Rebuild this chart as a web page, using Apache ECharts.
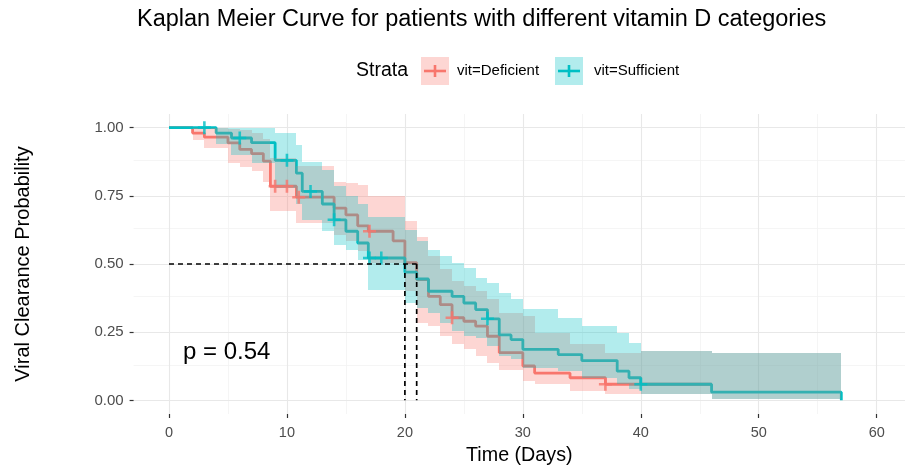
<!DOCTYPE html>
<html>
<head>
<meta charset="utf-8">
<script src="https://cdn.jsdelivr.net/npm/echarts@6/dist/echarts.min.js"></script>
<style>
  html, body { margin: 0; padding: 0; background: #fff; }
  #chart { width: 905px; height: 471px; }
</style>
</head>
<body>
<div id="chart"></div>
<script>
// survival curve, vit=Sufficient
const suffTime = [0, 4, 5.3, 7, 9, 10.8, 11.3, 13, 14, 15, 16, 16.9, 20, 21, 22, 24, 25, 26, 27, 28, 29, 30, 33, 35, 38, 39, 40, 46, 57]
const suffSurv = [1, 0.98, 0.962, 0.945, 0.88, 0.833, 0.766, 0.72, 0.662, 0.62, 0.577, 0.522, 0.47, 0.445, 0.40, 0.381, 0.357, 0.333, 0.299, 0.24, 0.223, 0.187, 0.168, 0.146, 0.107, 0.083, 0.059, 0.03, 0]
// confidence band, vit=Sufficient (step boundaries, then lower / upper per step)
const suffBandTime = [4, 5.3, 7, 9, 10.8, 11.3, 13, 14, 15, 16, 16.9, 20, 21, 22, 23, 24, 25, 26, 27, 28, 29, 30, 33, 35, 38, 39, 40, 46, 57]
const suffLower = [0.94, 0.90, 0.87, 0.78, 0.72, 0.66, 0.62, 0.57, 0.55, 0.516, 0.406, 0.358, 0.339, 0.321, 0.284, 0.254, 0.235, 0.229, 0.199, 0.162, 0.15, 0.12, 0.107, 0.083, 0.059, 0.04, 0.022, 0.006]
const suffUpper = [1, 1, 1, 0.98, 0.937, 0.875, 0.845, 0.785, 0.748, 0.72, 0.674, 0.625, 0.585, 0.55, 0.528, 0.504, 0.486, 0.449, 0.43, 0.394, 0.37, 0.335, 0.303, 0.272, 0.248, 0.211, 0.18, 0.175]
const suffCensorTime = [3, 6, 10, 12, 14, 17, 18, 27, 40]
const suffCensorSurv = [1, 0.962, 0.88, 0.766, 0.662, 0.522, 0.522, 0.299, 0.059]

// survival curve, vit=Deficient
const defTime = [0, 2, 3, 5, 6, 7, 8, 8.6, 10.8, 14, 15, 16, 16.9, 19, 20, 21, 22, 23, 24, 25, 26, 27, 28, 30, 31, 34, 37, 46]
const defSurv = [1, 0.98, 0.965, 0.944, 0.92, 0.905, 0.877, 0.785, 0.745, 0.705, 0.68, 0.64, 0.62, 0.585, 0.505, 0.443, 0.381, 0.351, 0.303, 0.29, 0.272, 0.235, 0.175, 0.126, 0.10, 0.083, 0.059, 0.059]
const defBandTime = [2, 3, 5, 6, 7, 8, 8.6, 10.8, 14, 15, 16, 16.9, 20, 21, 22, 23, 24, 25, 26, 27, 28, 30, 31, 34, 37, 40, 46, 57]
const defLower = [0.955, 0.925, 0.87, 0.857, 0.84, 0.80, 0.693, 0.65, 0.607, 0.583, 0.546, 0.505, 0.40, 0.284, 0.272, 0.235, 0.205, 0.187, 0.162, 0.138, 0.11, 0.07, 0.059, 0.034, 0.022, 0.022, 0.006]
const defUpper = [1, 1, 0.995, 0.99, 0.98, 0.96, 0.89, 0.86, 0.802, 0.796, 0.79, 0.748, 0.656, 0.60, 0.53, 0.48, 0.436, 0.418, 0.40, 0.37, 0.32, 0.308, 0.248, 0.205, 0.174, 0.18, 0.175]
const defCensorTime = [9, 10, 11, 17, 24, 37]
const defCensorSurv = [0.785, 0.785, 0.745, 0.62, 0.303, 0.059]

// median survival markers
const medianTimes = [20, 21]
const medianLevel = 0.5

const xTicks = [0, 10, 20, 30, 40, 50, 60]
const xMinor = [5, 15, 25, 35, 45, 55]
const yTicks = [0, 0.25, 0.5, 0.75, 1]
const yMinor = [0.125, 0.375, 0.625, 0.875]

const RED = '#F8766D'
const TEAL = '#00BFC4'
const FONT = 'Liberation Sans, Arial, sans-serif'

const zip = (a, b) => a.map((v, i) => [v, b[i]])

function bandSeries(name, times, lower, upper, fill, z) {
  return {
    type: 'custom',
    name: name,
    z: z,
    silent: true,
    data: lower.map((lo, i) => [times[i], times[i + 1], lo, upper[i]]),
    encode: { x: [0, 1], y: [2, 3] },
    renderItem: function (params, api) {
      const a = api.coord([api.value(0), api.value(3)])
      const b = api.coord([api.value(1), api.value(2)])
      const x0 = Math.round(a[0]), x1 = Math.round(b[0])
      const y0 = Math.round(a[1]), y1 = Math.round(b[1])
      return {
        type: 'rect',
        shape: { x: x0, y: y0, width: x1 - x0, height: y1 - y0 },
        style: { fill: fill }
      }
    }
  }
}

function stepSeries(name, t, s, color) {
  return {
    type: 'line',
    name: name,
    step: 'end',
    z: 2,
    showSymbol: false,
    silent: true,
    data: zip(t, s),
    lineStyle: { color: color, width: 2.8 },
    itemStyle: { color: color }
  }
}

const plus = 'path://M4.8,0 L7.2,0 L7.2,4.8 L12,4.8 L12,7.2 L7.2,7.2 L7.2,12 L4.8,12 L4.8,7.2 L0,7.2 L0,4.8 L4.8,4.8 Z'

function censorSeries(t, s, color) {
  return {
    type: 'scatter',
    z: 6,
    silent: true,
    symbol: plus,
    symbolSize: 13,
    data: zip(t, s),
    itemStyle: { color: color }
  }
}

function dashed(data) {
  return {
    type: 'line',
    z: 7,
    silent: true,
    showSymbol: false,
    data: data,
    lineStyle: { color: '#000', width: 1.7, type: [5, 4] }
  }
}

const gridLine = (key, v, color, width) => ({ [key]: v, lineStyle: { color: color, width: width, type: 'solid' } })

const chart = echarts.init(document.getElementById('chart'), null, { renderer: 'canvas' })

const axisLineOff = { show: false, onZero: false }

const option = {
  animation: false,
  backgroundColor: '#fff',
  title: {
    text: 'Kaplan Meier Curve for patients with different vitamin D categories',
    left: 137,
    top: 8,
    padding: 0,
    textStyle: { fontFamily: FONT, fontSize: 23.5, fontWeight: 'normal', color: '#000' }
  },
  grid: { left: 133.6, right: 0, top: 114, bottom: 56.3, containLabel: false },
  xAxis: {
    type: 'value',
    min: -3,
    max: 62.4,
    name: 'Time (Days)',
    nameLocation: 'middle',
    nameGap: 32,
    nameTextStyle: { fontFamily: FONT, fontSize: 19.7, color: '#000' },
    axisLine: axisLineOff,
    axisTick: { show: true, inside: false, customValues: xTicks, length: 4, lineStyle: { color: '#333', width: 1.2 } },
    axisLabel: { customValues: xTicks, margin: 11, fontFamily: FONT, fontSize: 14.5, color: '#4d4d4d' },
    splitLine: { show: false }
  },
  yAxis: {
    type: 'value',
    min: -0.05,
    max: 1.05,
    name: 'Viral Clearance Probability',
    nameLocation: 'middle',
    nameGap: 100,
    nameTextStyle: { fontFamily: FONT, fontSize: 20, color: '#000' },
    axisLine: axisLineOff,
    axisTick: { show: true, inside: false, customValues: yTicks, length: 4, lineStyle: { color: '#333', width: 1.2 } },
    axisLabel: {
      customValues: yTicks, margin: 10, fontFamily: FONT, fontSize: 15, color: '#4d4d4d',
      formatter: v => v.toFixed(2)
    },
    splitLine: { show: false }
  },
  graphic: [
    { type: 'text', left: 356, top: 61, style: { text: 'Strata', font: '19.5px ' + FONT, fill: '#000' } },
    { type: 'rect', shape: { x: 421, y: 57, width: 28, height: 28 }, style: { fill: 'rgba(248,118,109,0.3)' } },
    { type: 'line', shape: { x1: 424, y1: 71, x2: 446, y2: 71 }, style: { stroke: RED, lineWidth: 2.6 } },
    { type: 'line', shape: { x1: 435, y1: 65, x2: 435, y2: 77 }, style: { stroke: RED, lineWidth: 2.6 } },
    { type: 'text', left: 457, top: 63, style: { text: 'vit=Deficient', font: '15px ' + FONT, fill: '#000' } },
    { type: 'rect', shape: { x: 555, y: 57, width: 28, height: 28 }, style: { fill: 'rgba(0,191,196,0.3)' } },
    { type: 'line', shape: { x1: 558, y1: 71, x2: 580, y2: 71 }, style: { stroke: TEAL, lineWidth: 2.6 } },
    { type: 'line', shape: { x1: 569, y1: 65, x2: 569, y2: 77 }, style: { stroke: TEAL, lineWidth: 2.6 } },
    { type: 'text', left: 594, top: 63, style: { text: 'vit=Sufficient', font: '15px ' + FONT, fill: '#000' } },
    { type: 'text', left: 183, top: 340, z: 10, style: { text: 'p = 0.54', font: '24px ' + FONT, fill: '#000' } }
  ],
  series: [
    {
      type: 'line',
      z: 0,
      silent: true,
      data: [],
      markLine: {
        z: 0,
        silent: true,
        symbol: ['none', 'none'],
        symbolSize: 0,
        animation: false,
        label: { show: false },
        emphasis: { disabled: true },
        data: []
          .concat(xMinor.map(v => gridLine('xAxis', v, '#f3f3f3', 0.8)))
          .concat(yMinor.map(v => gridLine('yAxis', v, '#f3f3f3', 0.8)))
          .concat(xTicks.map(v => gridLine('xAxis', v, '#e8e8e8', 1.1)))
          .concat(yTicks.map(v => gridLine('yAxis', v, '#e8e8e8', 1.1)))
      }
    },
    stepSeries('vit=Deficient', defTime, defSurv, RED),
    stepSeries('vit=Sufficient', suffTime, suffSurv, TEAL),
    bandSeries('Deficient CI', defBandTime, defLower, defUpper, 'rgba(248,118,109,0.3)', 3),
    bandSeries('Sufficient CI', suffBandTime, suffLower, suffUpper, 'rgba(0,191,196,0.3)', 4),
    censorSeries(defCensorTime, defCensorSurv, RED),
    censorSeries(suffCensorTime, suffCensorSurv, TEAL),
    dashed([[0, medianLevel], [medianTimes[1], medianLevel]]),
    dashed([[medianTimes[0], medianLevel], [medianTimes[0], 0]]),
    dashed([[medianTimes[1], medianLevel], [medianTimes[1], 0]])
  ]
}

chart.setOption(option)
</script>
</body>
</html>
